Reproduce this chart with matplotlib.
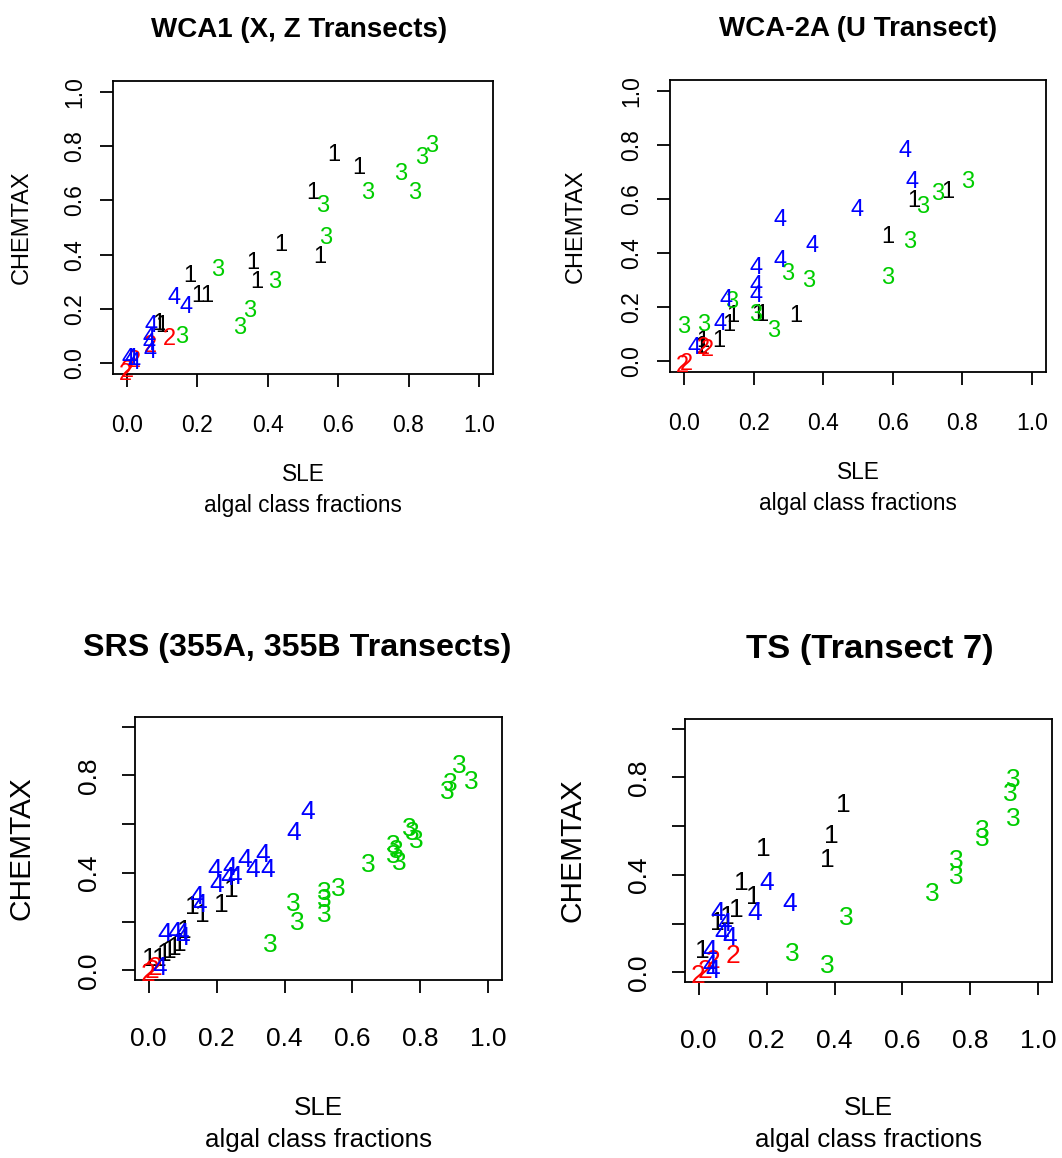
import numpy as np
import matplotlib
matplotlib.use("Agg")
import matplotlib.pyplot as plt

plt.rcParams["font.family"] = ["Liberation Sans", "DejaVu Sans"]

# algal class code -> colour (R default palette order)
class_colors = {1: "black", 2: "#FF0000", 3: "#00CD00", 4: "#0000FF"}

# WCA1 (X, Z transects)
wca1_sle = [0.587, 0.658, 0.528, 0.436, 0.548, 0.356, 0.369, 0.179, 0.202, 0.226, 0.098, 0.090,
            0.865, 0.837, 0.778, 0.816, 0.685, 0.557, 0.564, 0.256, 0.419, 0.349, 0.319, 0.156,
            0.119, 0.065, 0.022, 0.000, -0.005,
            0.134, 0.167, 0.069, 0.062, 0.063, 0.065, 0.012, 0.020, 0.003]
wca1_chemtax = [0.768, 0.719, 0.626, 0.437, 0.391, 0.369, 0.299, 0.321, 0.246, 0.246, 0.138, 0.145,
                0.801, 0.758, 0.696, 0.628, 0.626, 0.580, 0.462, 0.344, 0.298, 0.194, 0.128, 0.098,
                0.088, 0.064, 0.009, -0.030, -0.040,
                0.240, 0.206, 0.136, 0.091, 0.070, 0.040, 0.017, 0.002, 0.015]
wca1_class = [1] * 12 + [3] * 12 + [2] * 5 + [4] * 9

# WCA-2A (U transect)
wca2a_sle = [0.757, 0.659, 0.587, 0.321, 0.225, 0.213, 0.129, 0.139, 0.099, 0.053, 0.048,
             0.815, 0.729, 0.685, 0.648, 0.586, 0.299, 0.357, 0.136, 0.206, 0.258, -0.002, 0.056,
             0.067, 0.057, 0.007, -0.003,
             0.635, 0.656, 0.498, 0.277, 0.369, 0.206, 0.277, 0.206, 0.206, 0.120, 0.105, 0.029]
wca2a_chemtax = [0.626, 0.592, 0.461, 0.168, 0.172, 0.172, 0.134, 0.166, 0.075, 0.075, 0.054,
                 0.661, 0.618, 0.570, 0.440, 0.306, 0.321, 0.296, 0.219, 0.169, 0.112, 0.126, 0.134,
                 0.041, 0.047, -0.009, -0.017,
                 0.778, 0.664, 0.558, 0.521, 0.427, 0.346, 0.371, 0.278, 0.240, 0.228, 0.137, 0.047]
wca2a_class = [1] * 11 + [3] * 12 + [2] * 4 + [4] * 12

# SRS (355A, 355B transects)
srs_sle = [0.244, 0.215, 0.159, 0.129, 0.106, 0.091, 0.076, 0.062, 0.047, 0.032, 0.003,
           0.915, 0.950, 0.887, 0.880, 0.768, 0.777, 0.789, 0.719, 0.728, 0.719, 0.738,
           0.648, 0.557, 0.516, 0.516, 0.516, 0.427, 0.437, 0.359,
           0.009, 0.018, -0.003,
           0.469, 0.427, 0.194, 0.238, 0.282, 0.306, 0.335, 0.350, 0.200, 0.232, 0.253,
           0.141, 0.150, 0.047, 0.076, 0.097, 0.100, 0.032]
srs_chemtax = [0.329, 0.267, 0.225, 0.258, 0.163, 0.108, 0.092, 0.079, 0.067, 0.046, 0.046,
               0.839, 0.772, 0.765, 0.731, 0.579, 0.565, 0.530, 0.509, 0.489, 0.468, 0.440,
               0.433, 0.334, 0.316, 0.288, 0.226, 0.274, 0.194, 0.104,
               -0.004, 0.008, -0.017,
               0.651, 0.565, 0.412, 0.421, 0.454, 0.412, 0.475, 0.412, 0.350, 0.379, 0.383,
               0.300, 0.267, 0.150, 0.154, 0.150, 0.133, 0.008]
srs_class = [1] * 11 + [3] * 19 + [2] * 3 + [4] * 18

# TS (transect 7)
ts_sle = [0.427, 0.390, 0.378, 0.189, 0.127, 0.160, 0.112, 0.085, 0.056, 0.012,
          0.925, 0.917, 0.925, 0.836, 0.836, 0.758, 0.758, 0.689, 0.436, 0.277, 0.378,
          0.100, 0.041, -0.003, 0.018,
          0.199, 0.268, 0.165, 0.056, 0.076, 0.068, 0.091, 0.032, 0.032, 0.041]
ts_chemtax = [0.686, 0.559, 0.462, 0.507, 0.368, 0.307, 0.254, 0.225, 0.204, 0.088,
              0.788, 0.732, 0.631, 0.580, 0.548, 0.455, 0.393, 0.320, 0.224, 0.075, 0.024,
              0.067, 0.046, -0.017, 0.004,
              0.368, 0.282, 0.242, 0.242, 0.200, 0.158, 0.142, 0.088, 0.025, 0.004]
ts_class = [1] * 10 + [3] * 11 + [2] * 4 + [4] * 10

panels = [
    ("WCA1 (X, Z Transects)", wca1_sle, wca1_chemtax, wca1_class),
    ("WCA-2A (U Transect)", wca2a_sle, wca2a_chemtax, wca2a_class),
    ("SRS (355A, 355B Transects)", srs_sle, srs_chemtax, srs_class),
    ("TS (Transect 7)", ts_sle, ts_chemtax, ts_class),
]

W, H = 1062, 1158
fig = plt.figure(figsize=(W / 100, H / 100), dpi=100)


def px_axes(x0, y0, x1, y1):
    return fig.add_axes([x0 / W, 1 - y1 / H, (x1 - x0) / W, (y1 - y0) / H])


# plot boxes in pixels (left, top, right, bottom)
boxes = [(113, 81, 493, 374), (670, 80, 1046, 372),
         (135, 717, 502, 980), (685, 719, 1052, 982)]
# centre of the two-line x label and x position of the y label, in pixels
xlab_y = [490, 488, 1124, 1124]
ylab_x = [22, 576, 22, 572]
# horizontal title anchor (axes fraction) and title size
title_x = [0.49, 0.5, 0.441, 0.503]
title_fs = [20, 20, 23.2, 24.8]
ticks = [0.0, 0.2, 0.4, 0.6, 0.8, 1.0]

for i, (title, sle, chem, cls) in enumerate(panels):
    ax = px_axes(*boxes[i])
    top = i < 2
    pt_fs = 17 if top else 19
    tick_fs = 16.5 if top else 19
    ax.set_xlim(-0.04, 1.04)
    ax.set_ylim(-0.04, 1.04)

    for x, y, c in zip(sle, chem, cls):
        ax.text(x, y, str(c), color=class_colors[c], fontsize=pt_fs,
                ha="center", va="center")

    ax.set_xticks(ticks)
    ax.set_xticklabels([f"{t:.1f}" for t in ticks])
    ax.set_yticks(ticks)
    if top:
        ax.set_yticklabels([f"{t:.1f}" for t in ticks])
    else:
        ax.set_yticklabels(["0.0", "", "0.4", "", "0.8", ""])
    for lbl in ax.get_yticklabels():
        lbl.set_rotation(90)
        lbl.set_va("center")

    ax.tick_params(length=9.5, width=1.3, labelsize=tick_fs)
    ax.tick_params(axis="x", pad=19.5 if top else 24)
    ax.tick_params(axis="y", pad=9.5 if top else 15)
    for sp in ax.spines.values():
        sp.set_linewidth(1.3)

    ax.set_title(title, fontweight="bold", fontsize=title_fs[i],
                 pad=32 if top else 44, x=title_x[i])

    bx0, by0, bx1, by1 = boxes[i]
    fig.text((bx0 + bx1) / 2 / W, 1 - xlab_y[i] / H, "SLE\nalgal class fractions",
             fontsize=16.3 if top else 18.7, ha="center", va="center",
             linespacing=1.45 if top else 1.4)
    fig.text(ylab_x[i] / W, 1 - (by0 + by1) / 2 / H, "CHEMTAX",
             fontsize=17 if top else 21.5, rotation=90, ha="center", va="center")

fig.savefig("out.png", dpi=100)
